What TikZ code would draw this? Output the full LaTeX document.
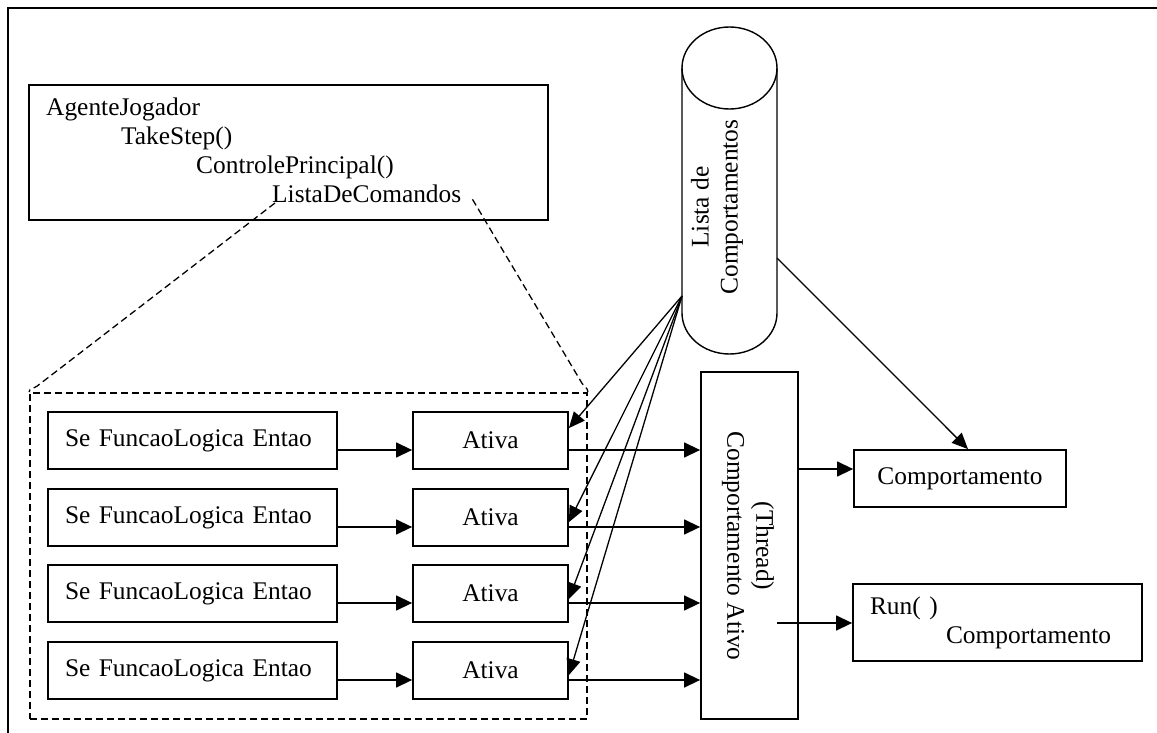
\documentclass[tikz,border=0pt]{standalone}
\usepackage{fontspec}
\setmainfont{Liberation Serif}
\usetikzlibrary{arrows.meta}
\begin{document}
\begin{tikzpicture}[x=1pt,y=-1pt,
  txt/.style={font=\fontsize{25.4}{29}\selectfont, inner sep=0pt},
  box/.style={draw, line width=1.8pt, inner sep=0pt, font=\fontsize{25.4}{29}\selectfont},
  sebox/.style={box, minimum width=289pt, minimum height=57pt, text width=255pt, align=left, inner xsep=17pt},
  ativabox/.style={box, minimum width=155pt, minimum height=57pt},
  conn/.style={line width=1.4pt, -{Triangle[length=16pt,width=15pt]}},
  fanline/.style={line width=1.3pt, -{Triangle[length=16pt,width=14pt]}},
  groupline/.style={line width=1.8pt, dash pattern=on 7pt off 4pt},
  callout/.style={line width=1.3pt, dash pattern=on 7pt off 4pt}]

\useasboundingbox (0,0) rectangle (1157,733);
% outer frame, open at the right and at the bottom
\draw[line width=1.8pt] (8,733) -- (8,8) -- (1157,8);

% agent box with its call chain
\node[box, minimum width=519pt, minimum height=135pt] (agente) at (288.5,152.5) {};
\node[txt, anchor=base west] (ag) at (46,116) {AgenteJogador};
\node[txt, anchor=base west] (ts) at (121,145) {TakeStep()};
\node[txt, anchor=base west] (cpr) at (196,174) {ControlePrincipal()};
\node[txt, anchor=base west] (ldc) at (272,203) {ListaDeComandos};

% behaviour list (cylinder): full top ellipse, sides and lower bottom arc
\draw[line width=1.4pt] (682,68)
  arc[start angle=180, end angle=-180, x radius=47.5pt, y radius=41pt];
\draw[line width=1.4pt] (682,68) -- (682,313)
  arc[start angle=180, end angle=360, x radius=47.5pt, y radius=41pt] -- (777,68);
\node[txt, rotate=90, align=center] (lista) at (717,207) {Lista de\\Comportamentos};
\coordinate (cylL) at (682,296);
\coordinate (cylR) at (777,258);

% active behaviour thread
\node[box, minimum width=97pt, minimum height=347pt] (th) at (749.5,545.5) {};
\node[txt, rotate=-90, align=center] (thtxt) at (748,546) {(Thread)\\Comportamento Ativo};

% command list group
\node[draw, groupline, minimum width=557pt, minimum height=326pt, inner sep=0pt] (grupo) at (308.5,556) {};
\draw[callout] ([xshift=3pt]ldc.base west) -- ([shift={(8pt,6pt)}]grupo.north west)
  to[out=218,in=90] (grupo.north west);
\draw[callout] ([xshift=11pt,yshift=-5pt]ldc.east) -- ([shift={(-6pt,9pt)}]grupo.north east)
  to[out=301,in=90] (grupo.north east);

% rows: condition -> activation -> thread
\foreach \i/\y/\d in {1/440.5/17, 2/517.5/34, 3/593.5/35, 4/670.5/34} {
  \node[sebox] (s\i) at (192.5,\y) {Se FuncaoLogica Entao};
  \node[ativabox] (a\i) at (490.5,\y) {Ativa};
  \coordinate (r\i) at (0,\y+9.5);
  \draw[conn] (s\i.east |- r\i) -- (a\i.west |- r\i);
  \draw[conn] (a\i.east |- r\i) -- (th.west |- r\i);
  \draw[fanline] (cylL) -- ([yshift=-\d pt]a\i.north east);
}

% behaviour boxes
\node[box, minimum width=212pt, minimum height=57pt] (comp) at (960,478.5) {Comportamento};
\node[box, minimum width=289pt, minimum height=77pt, text width=255pt, align=left, inner xsep=17pt]
  (run) at (997.5,622.5) {Run( )\\\hspace*{76pt}Comportamento};

\coordinate (k1) at (0,469);
\draw[conn] (th.east |- k1) -- (comp.west |- k1);
\coordinate (runsrc) at (777,623);
\draw[conn] (runsrc) -- (run.west |- runsrc);
\draw[fanline] (cylR) -- ([xshift=8pt]comp.north);
\end{tikzpicture}
\end{document}
